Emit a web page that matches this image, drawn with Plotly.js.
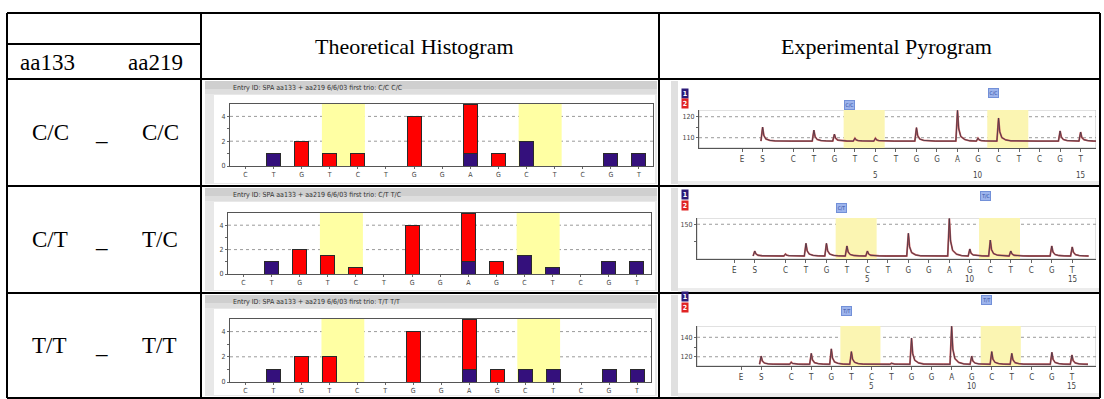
<!DOCTYPE html>
<html><head><meta charset="utf-8">
<script src="https://cdn.plot.ly/plotly-3.0.1.min.js"></script>
<style>html,body{margin:0;padding:0;background:#fff;}#chart{width:1104px;height:399px;}</style>
</head><body><div id="chart"></div>
<script>
// ---------------- data ----------------
const headerLeft = ['aa133', 'aa219'];
const headerHist = 'Theoretical Histogram';
const headerPyro = 'Experimental Pyrogram';
const genotypes133 = ['C/C', 'C/T', 'T/T'];
const genotypes219 = ['C/C', 'T/C', 'T/T'];
const histTitles = [
  'Entry ID: SPA aa133 + aa219 6/6/03 first trio: C/C C/C',
  'Entry ID: SPA aa133 + aa219 6/6/03 first trio: C/T T/C',
  'Entry ID: SPA aa133 + aa219 6/6/03 first trio: T/T T/T'
];
const histCats = ['C','T','G','T','C','T','G','G','A','G','C','T','C','G','T'];
const histRed1    = [0,0,2,1,1,0,4,0,4,1,0,0,0,0,0];
const histPurple1 = [0,1,0,0,0,0,0,0,1,0,2,0,0,1,1];
const histRed2    = [0,0,2,1.5,0.5,0,4,0,4,1,0,0,0,0,0];
const histPurple2 = [0,1,0,0,0,0,0,0,1,0,1.5,0.5,0,1,1];
const histRed3    = [0,0,2,2,0,0,4,0,4,1,0,0,0,0,0];
const histPurple3 = [0,1,0,0,0,0,0,0,1,0,1,1,0,1,1];
const histYTicks = [0,2,4];
const histYMinor = [1,3];
const highlightGroups = [[4,5],[11,12]];

const pyroCats = ['E','S','C','T','G','T','C','T','G','G','A','G','C','T','C','G','T'];
const pyroX    = [-1.5,-0.5,1,2,3,4,5,6,7,8,9,10,11,12,13,14,15];
const pyroNumbers = [5,10,15];
const pyroBase1 = 108.4;
const pyroPeaks1 = [0,6.7,0,5.2,3.3,1.4,1.4,0,6.4,0,14.6,1.4,11,0,0,4.8,4.3];
const pyroBase2 = 104.3;
const pyroPeaks2 = [0,7.2,2.9,18.3,18.3,14.4,7.2,0,32.7,0,54,10,23,7.2,0,14.4,13];
const pyroBase3 = 112.3;
const pyroPeaks3 = [0,8.4,2.1,11.2,15.8,13,0.5,1,27,0.5,39,8.4,13,11.2,0,12.3,9.5];
const pyroYTicks1 = [110,120], pyroYMinor1 = [115];
const pyroYTicks2 = [150],     pyroYMinor2 = [125];
const pyroYTicks3 = [120,140], pyroYMinor3 = [130];
const pyroTags1 = ['C/C','C/C'];
const pyroTags2 = ['C/T','T/C'];
const pyroTags3 = ['T/T','T/T'];
const pyroSeriesNames = ['1','2'];

// ---------------- geometry ----------------
const W = 1104, H = 399;
const X = p => p / W, Y = p => 1 - p / H;
const rowTops = [79,186,293], rowBots = [186,293,398];
const histBox = [{l:230,r:653,t:104,b:166},{l:228,r:651,t:213,b:274},{l:230,r:651,t:319,b:382}];
const pyroBox = [{l:699,r:1096,t:110,b:148},{l:697,r:1096,t:218,b:259},{l:697,r:1096,t:326,b:366}];
const pyroXRange = [[-3.6,15.75],[-3.32,16.16],[-3.7,16.2]];
const pyroYRange = [[105.1,123.2],[100,159],[110.5,151.6]];
const histXRange = [0.45, 15.5], histYRange = [0, 5];

const serif = 'Liberation Serif, Times New Roman, serif';
const narrow = 'Liberation Sans Narrow, DejaVu Sans Condensed, Arial Narrow, sans-serif';
const smallFont = {family: narrow, size: 7, color: '#444'};
const pyroFont = {family: narrow, size: 8, color: '#444'};

const histRed = [histRed1, histRed2, histRed3];
const histPurple = [histPurple1, histPurple2, histPurple3];
const pyroBase = [pyroBase1, pyroBase2, pyroBase3];
const pyroPeaks = [pyroPeaks1, pyroPeaks2, pyroPeaks3];
const pyroYTicks = [pyroYTicks1, pyroYTicks2, pyroYTicks3];
const pyroYMinor = [pyroYMinor1, pyroYMinor2, pyroYMinor3];
const pyroTags = [pyroTags1, pyroTags2, pyroTags3];
const histPos = histCats.map((c, i) => i + 1);
const sfx = n => n === 1 ? '' : String(n);

const traces = [];
const shapes = [];
const annotations = [];
const layout = {
  width: W, height: H, margin: {l:0, r:0, t:0, b:0},
  paper_bgcolor: '#ffffff', plot_bgcolor: 'rgba(0,0,0,0)',
  showlegend: false, barmode: 'stack', hovermode: false
};
const gridLine = {color:'#9a9a9a', width:1, dash:'dot'};

// cell backgrounds
for (let r = 0; r < 3; r++) {
  const t = rowTops[r], b = rowBots[r];
  shapes.push({type:'rect', xref:'paper', yref:'paper', layer:'below', x0:X(205), x1:X(657), y0:Y(b-2), y1:Y(t+2), fillcolor:'#e8e8e8', line:{width:0}});
  shapes.push({type:'rect', xref:'paper', yref:'paper', layer:'below', x0:X(205), x1:X(657), y0:Y(t+10), y1:Y(t+2), fillcolor:'#cfcfcf', line:{width:0}});
  shapes.push({type:'rect', xref:'paper', yref:'paper', layer:'below', x0:X(205), x1:X(657), y0:Y(t+15), y1:Y(t+10), fillcolor:'#dedede', line:{width:0}});
  shapes.push({type:'rect', xref:'paper', yref:'paper', layer:'below', x0:X(214), x1:X(655), y0:Y(b-3), y1:Y(t+16), fillcolor:'#ffffff', line:{width:0}});
  shapes.push({type:'rect', xref:'paper', yref:'paper', layer:'below', x0:X(671), x1:X(678), y0:Y(b-2), y1:Y(t+2), fillcolor:'#e0e0e0', line:{width:0}});
  shapes.push({type:'rect', xref:'paper', yref:'paper', layer:'below', x0:X(678), x1:X(1100), y0:Y(b-1), y1:Y(b-5), fillcolor:'#ececec', line:{width:0}});
  annotations.push({xref:'paper', yref:'paper', x:X(231), y:Y(t+9), xanchor:'left', yanchor:'middle', text:histTitles[r], showarrow:false, font:{family:narrow, size:7, color:'#333'}});
}

// histograms
for (let r = 0; r < 3; r++) {
  const n = r + 1, b = histBox[r];
  const xa = 'x' + sfx(n), ya = 'y' + sfx(n);
  traces.push({type:'bar', x:histPos, y:histPurple[r].map(v => v || null), xaxis:xa, yaxis:ya, width:0.5,
    marker:{color:'#34107c', line:{color:'#2a2a2a', width:1}}, hoverinfo:'skip'});
  traces.push({type:'bar', x:histPos, y:histRed[r].map(v => v || null), xaxis:xa, yaxis:ya, width:0.5,
    marker:{color:'#ff0000', line:{color:'#2a2a2a', width:1}}, hoverinfo:'skip'});
  layout['xaxis' + sfx(n)] = {domain:[X(b.l), X(b.r)], anchor:ya, range:histXRange, tickmode:'array',
    tickvals:histPos, ticktext:histCats, ticks:'outside', ticklen:2, tickcolor:'#666', showline:true,
    linecolor:'#555', mirror:true, showgrid:false, zeroline:false, tickfont:smallFont, fixedrange:true};
  layout['yaxis' + sfx(n)] = {domain:[Y(b.b), Y(b.t)], anchor:xa, range:histYRange, tickmode:'array',
    tickvals:histYTicks, ticks:'outside', ticklen:2, tickcolor:'#666', showline:true, linecolor:'#555',
    mirror:true, showgrid:false, zeroline:false, tickfont:smallFont, fixedrange:true,
    minor:{tickmode:'array', tickvals:histYMinor, ticks:'outside', ticklen:2, tickcolor:'#666', showgrid:false}};
  histYTicks.filter(v => v > histYRange[0]).forEach(v => {
    shapes.push({type:'line', xref:xa, yref:ya, layer:'below', x0:histXRange[0], x1:histXRange[1], y0:v, y1:v, line:gridLine});
  });
  highlightGroups.forEach(g => {
    shapes.push({type:'rect', xref:xa, yref:ya, layer:'below', x0:g[0] - 0.28, x1:g[g.length-1] + 0.25,
      y0:histYRange[0], y1:histYRange[1], fillcolor:'#ffffa3', line:{width:0}});
  });
}

// pyrograms
for (let r = 0; r < 3; r++) {
  const n = r + 4, b = pyroBox[r];
  const xa = 'x' + n, ya = 'y' + n;
  const xr = pyroXRange[r], yr = pyroYRange[r];
  const base = pyroBase[r], peaks = pyroPeaks[r];
  const xs = [], ys = [];
  for (let i = 1; i < pyroX.length; i++) {
    const x0 = pyroX[i], h = peaks[i];
    xs.push(x0 - 0.08); ys.push(base);
    if (h > 0) {
      xs.push(x0, x0 + 0.06, x0 + 0.16, x0 + 0.35, x0 + 0.6);
      ys.push(base + h, base + h * 0.4, base + h * 0.15, base + h * 0.05, base + h * 0.01);
    }
  }
  xs.push(pyroX[pyroX.length - 1] + 0.8); ys.push(base);
  traces.push({type:'scatter', mode:'lines', x:xs, y:ys, xaxis:xa, yaxis:ya, name:pyroSeriesNames[1],
    line:{color:'#c85a5a', width:1.8}, hoverinfo:'skip'});
  traces.push({type:'scatter', mode:'lines', x:xs, y:ys, xaxis:xa, yaxis:ya, name:pyroSeriesNames[0],
    line:{color:'#4a3848', width:0.9}, hoverinfo:'skip'});
  layout['xaxis' + n] = {domain:[X(b.l), X(b.r)], anchor:ya, range:xr, tickmode:'array',
    tickvals:pyroX, ticktext:pyroCats, ticks:'outside', ticklen:3, tickcolor:'#666', showline:true,
    linecolor:'#555', showgrid:false, zeroline:false, tickfont:pyroFont, fixedrange:true};
  layout['yaxis' + n] = {domain:[Y(b.b), Y(b.t)], anchor:xa, range:yr, tickmode:'array',
    tickvals:pyroYTicks[r], ticks:'outside', ticklen:2, tickcolor:'#666', showline:true, linecolor:'#555',
    showgrid:false, zeroline:false, tickfont:smallFont, fixedrange:true,
    minor:{tickmode:'array', tickvals:pyroYMinor[r], ticks:'outside', ticklen:2, tickcolor:'#666', showgrid:false}};
  // light frame (top/right)
  shapes.push({type:'rect', xref:xa, yref:ya, layer:'below', x0:xr[0], x1:xr[1], y0:yr[0], y1:yr[1],
    fillcolor:'rgba(0,0,0,0)', line:{color:'#c4c4c4', width:1}});
  pyroYTicks[r].forEach(v => {
    shapes.push({type:'line', xref:xa, yref:ya, layer:'below', x0:xr[0], x1:xr[1], y0:v, y1:v, line:gridLine});
  });
  highlightGroups.forEach((g, k) => {
    const x0 = g[0] - 0.55, x1 = g[g.length-1] + 0.45;
    shapes.push({type:'rect', xref:xa, yref:ya, layer:'below', x0:x0, x1:x1, y0:yr[0], y1:yr[1],
      fillcolor:'#fbf5b2', line:{width:0}});
    annotations.push({xref:xa, yref:'paper', x:x0 + 0.3, y:Y(b.t - (k === 0 ? 10.5 : 21.5)), text:pyroTags[r][k],
      showarrow:false, font:{family:narrow, size:5, color:'#2a46a0'}, bgcolor:'#9db4ec', bordercolor:'#7290d8',
      borderwidth:1, borderpad:0, width:9, height:8});
  });
  pyroNumbers.forEach(v => {
    annotations.push({xref:xa, yref:'paper', x:v, y:Y(b.b + 27), text:String(v), showarrow:false, font:pyroFont});
  });
  const t = rowTops[r];
  annotations.push({xref:'paper', yref:'paper', x:X(685), y:Y(t + 8.5), text:'<b>' + pyroSeriesNames[0] + '</b>', showarrow:false,
    font:{family:narrow, size:7, color:'#ffffff'}, bgcolor:'#2c1a78', width:6, height:9, borderpad:0});
  annotations.push({xref:'paper', yref:'paper', x:X(685), y:Y(t + 19.5), text:'<b>' + pyroSeriesNames[1] + '</b>', showarrow:false,
    font:{family:narrow, size:7, color:'#ffffff'}, bgcolor:'#e02424', width:6, height:9, borderpad:0});
}

// table text
const bigFont = {family: serif, size: 23, color: '#000'};
const headFont = {family: serif, size: 22, color: '#000'};
annotations.push({xref:'paper', yref:'paper', x:X(18), y:Y(62), xanchor:'left', yanchor:'middle', text:headerLeft[0], showarrow:false, font:bigFont});
annotations.push({xref:'paper', yref:'paper', x:X(126), y:Y(62), xanchor:'left', yanchor:'middle', text:headerLeft[1], showarrow:false, font:bigFont});
annotations.push({xref:'paper', yref:'paper', x:X(414), y:Y(46), xanchor:'center', yanchor:'middle', text:headerHist, showarrow:false, font:headFont});
annotations.push({xref:'paper', yref:'paper', x:X(886), y:Y(46), xanchor:'center', yanchor:'middle', text:headerPyro, showarrow:false, font:headFont});
for (let r = 0; r < 3; r++) {
  const cy = (rowTops[r] + rowBots[r]) / 2;
  annotations.push({xref:'paper', yref:'paper', x:X(30), y:Y(cy), xanchor:'left', yanchor:'middle', text:genotypes133[r], showarrow:false, font:bigFont});
  annotations.push({xref:'paper', yref:'paper', x:X(101), y:Y(cy), xanchor:'center', yanchor:'middle', text:'_', showarrow:false, font:bigFont});
  annotations.push({xref:'paper', yref:'paper', x:X(140), y:Y(cy), xanchor:'left', yanchor:'middle', text:genotypes219[r], showarrow:false, font:bigFont});
}

// table lines
const lineStyle = {color:'#000', width:2};
const hLine = (y, x0, x1) => shapes.push({type:'line', xref:'paper', yref:'paper', layer:'above', x0:X(x0), x1:X(x1), y0:Y(y), y1:Y(y), line:lineStyle});
const vLine = (x, y0, y1) => shapes.push({type:'line', xref:'paper', yref:'paper', layer:'above', x0:X(x), x1:X(x), y0:Y(y0), y1:Y(y1), line:lineStyle});
hLine(13, 7, 1100); hLine(44, 7, 201); hLine(79, 7, 1100); hLine(186, 7, 1100); hLine(293, 7, 1100); hLine(398, 7, 1100);
vLine(7, 13, 398); vLine(201, 13, 398); vLine(659, 13, 398); vLine(1100, 13, 398);

layout.shapes = shapes;
layout.annotations = annotations;
Plotly.newPlot('chart', traces, layout, {staticPlot:true, displayModeBar:false});
</script></body></html>
